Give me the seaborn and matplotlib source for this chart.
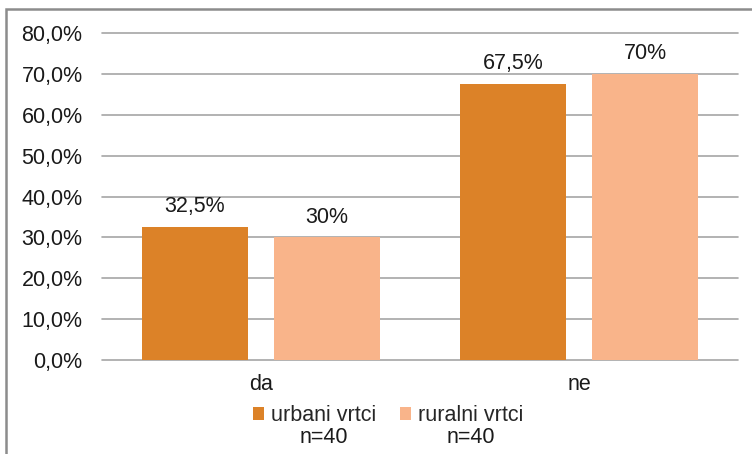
import pandas as pd
import seaborn as sns
import matplotlib.pyplot as plt
from matplotlib.ticker import FuncFormatter
from matplotlib.patches import Rectangle

# podaci
odgovori = ['da', 'ne']
urbani = [32.5, 67.5]
ruralni = [30.0, 70.0]
oznake_urbani = ['32,5%', '67,5%']
oznake_ruralni = ['30%', '70%']
skupine = ['urbani vrtci', 'ruralni vrtci']
velicine = ['n=40', 'n=40']

df = pd.DataFrame({
    'odgovor': odgovori * 2,
    'skupina': [skupine[0]] * 2 + [skupine[1]] * 2,
    'postotak': urbani + ruralni,
})

sns.set_theme(style="white")
plt.rcParams['font.family'] = ['Liberation Sans', 'DejaVu Sans']
fs = 15.5

fig = plt.figure(figsize=(7.52, 4.54), dpi=100)
ax = fig.add_axes([102 / 752, 1 - 360 / 454, 636 / 752, 327 / 454])

sns.barplot(data=df, x='odgovor', y='postotak', hue='skupina', order=odgovori,
            hue_order=skupine, palette=['#DC8228', '#F9B48A'],
            width=0.83, gap=0.2, saturation=1, linewidth=0, ax=ax)

ax.set_ylim(0, 80)
ax.set_xlim(-0.5, 1.5)
ax.set_yticks(range(0, 81, 10))
ax.yaxis.set_major_formatter(FuncFormatter(lambda v, p: f"{v:.1f}%".replace('.', ',')))
ax.grid(axis='y', color='#A6A6A6', linewidth=1.2)
for gl in ax.get_ygridlines():
    gl.set_clip_on(False)
ax.set_axisbelow(True)
for s in ax.spines.values():
    s.set_visible(False)
ax.tick_params(axis='y', labelsize=fs, pad=14, colors='#1a1a1a', length=0)
ax.tick_params(axis='x', labelsize=fs, pad=10, colors='#1a1a1a', length=0)
ax.set_xlabel('')
ax.set_ylabel('')

for cont, lab in zip(ax.containers, [oznake_urbani, oznake_ruralni]):
    ax.bar_label(cont, labels=lab, padding=7, fontsize=fs, color='#1a1a1a')

leg = ax.legend(loc='upper center', bbox_to_anchor=(0.45, -0.105), ncol=2, frameon=False,
                fontsize=fs, handlelength=0.5, handleheight=0.5, handletextpad=0.35,
                columnspacing=1.1, borderpad=0)

# n=40 ispod svake oznake legende
fig.canvas.draw()
inv = fig.transFigure.inverted()
for t, n in zip(leg.get_texts(), velicine):
    bb = t.get_window_extent().transformed(inv)
    fig.text((bb.x0 + bb.x1) / 2, bb.y0 - 0.001, n, ha='center', va='top',
             fontsize=fs, color='#1a1a1a')

# okvir grafikona
fig.patches.append(Rectangle((6 / 752, -0.1), 1.2, 1 - 9 / 454 + 0.1, transform=fig.transFigure,
                             fill=False, edgecolor='#8C8C8C', linewidth=1.8))

fig.savefig('out.png', dpi=100)
